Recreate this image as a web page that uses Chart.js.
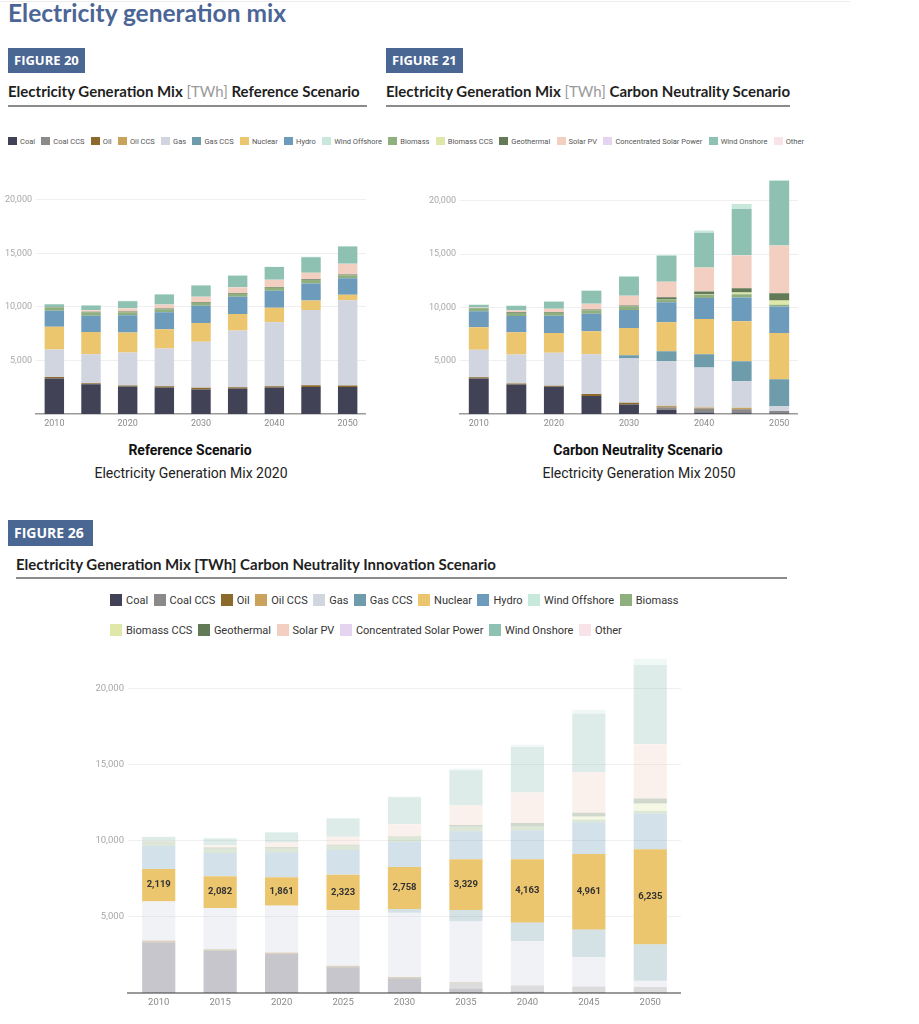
<!DOCTYPE html>
<html><head><meta charset="utf-8">
<script src="https://cdn.jsdelivr.net/npm/chart.js@4.4.1/dist/chart.umd.min.js"></script>
<style>
body{margin:0;background:#fff;width:919px;height:1024px;position:relative;overflow:hidden;font-family:Roboto,sans-serif;}
.abs{position:absolute;}
.topline{left:0;top:1px;width:850px;height:1px;background:#ececec}
.h1{left:8px;top:-1px;font:700 24.5px/28px Lato;color:#4b6696;white-space:nowrap}
.fig{height:25px;background:#4a6692;color:#fff;font:700 13px/25px "Open Sans";padding:0 6px;box-sizing:border-box;white-space:nowrap}
.sub{font:700 15px/18px Lato;color:#1f1f1f;white-space:nowrap}
.sub span{font-weight:400;color:#9a9a9a}
.rule{height:2px;background:#8a8a8a}
.cap1{font:700 14px/18px Roboto;color:#111;text-align:center;width:300px}
.cap2{font:400 14px/18px Roboto;color:#222;text-align:center;width:300px}
.leg{display:flex;align-items:center;white-space:nowrap}
.leg .it{display:flex;align-items:center}
.leg .sw{display:inline-block}
#legTop{left:8px;top:136px;height:10px;font:400 7.5px Roboto;color:#555;gap:6.3px}
#legTop .sw{width:9px;height:8px;margin-right:3px}
#leg3{left:110px;top:590px;width:600px;flex-wrap:wrap;gap:10px 5.5px;font:400 11px Roboto;color:#333}
#leg3 .it{height:20px}
#leg3 .sw{width:12px;height:12px;margin-right:4px}
.t26{font:700 15px/18px Lato;color:#1f1f1f;white-space:nowrap}
</style></head><body>
<div class="abs topline"></div>
<div class="abs h1">Electricity generation mix</div>

<div class="abs fig" style="left:8px;top:48px;width:77px">FIGURE 20</div>
<div class="abs fig" style="left:386px;top:48px;width:77px">FIGURE 21</div>
<div class="abs sub" style="left:8px;top:82px">Electricity Generation Mix <span>[TWh]</span> Reference Scenario</div>
<div class="abs sub" style="left:386px;top:82px">Electricity Generation Mix <span>[TWh]</span> Carbon Neutrality Scenario</div>
<div class="abs rule" style="left:8px;top:105px;width:359px"></div>
<div class="abs rule" style="left:386px;top:105px;width:404px"></div>

<div id="legTop" class="abs leg"></div>

<canvas id="c1" class="abs" style="left:0px;top:169px" width="366" height="265"></canvas>
<canvas id="c2" class="abs" style="left:420px;top:170px" width="378" height="264"></canvas>

<div class="abs cap1" style="left:40px;top:441px">Reference Scenario</div>
<div class="abs cap2" style="left:41px;top:464px">Electricity Generation Mix 2020</div>
<div class="abs cap1" style="left:488px;top:441px">Carbon Neutrality Scenario</div>
<div class="abs cap2" style="left:489px;top:464px">Electricity Generation Mix 2050</div>

<div class="abs fig" style="left:8px;top:520px;width:85px;height:26px;line-height:26px;font-size:14px">FIGURE 26</div>
<div class="abs t26" style="left:16px;top:555px">Electricity Generation Mix [TWh] Carbon Neutrality Innovation Scenario</div>
<div class="abs rule" style="left:16px;top:577px;width:771px"></div>

<div id="leg3" class="abs leg"></div>

<canvas id="c3" class="abs" style="left:88px;top:648px" width="593" height="365"></canvas>

<script>
// ---------- categories & ticks ----------
const years = ['2010','2015','2020','2025','2030','2035','2040','2045','2050'];
const yTickValues = [5000, 10000, 15000, 20000];

// ---------- series (stacking order, bottom to top) ----------
const seriesNames = ['Coal','Coal CCS','Oil','Oil CCS','Gas','Gas CCS','Nuclear','Hydro','Biomass','Biomass CCS','Geothermal','Solar PV','Concentrated Solar Power','Other','Wind Onshore','Wind Offshore'];
const seriesColors = ['#424257','#8a8a8a','#8c6a2b','#c9a35c','#d0d5e0','#6f9caa','#ecc56f','#6d9bbb','#8faf7e','#dfe8a8','#627a56','#f2cfc0','#e5d4f0','#f8e4e8','#8fc1b3','#c9e8dc'];
const legendOrder = ['Coal','Coal CCS','Oil','Oil CCS','Gas','Gas CCS','Nuclear','Hydro','Wind Offshore','Biomass','Biomass CCS','Geothermal','Solar PV','Concentrated Solar Power','Wind Onshore','Other'];

// ---------- Reference Scenario [TWh] ----------
const refCoal       = [3320,2770,2560,2470,2290,2380,2470,2530,2530];
const refCoalCCS    = [0,0,0,0,0,0,0,0,0];
const refOil        = [130,100,100,120,150,120,120,150,120];
const refOilCCS     = [0,0,0,0,0,0,0,0,0];
const refGas        = [2570,2710,3080,3530,4300,5290,5970,7030,7980];
const refGasCCS     = [0,0,0,0,0,0,0,0,0];
const refNuclear    = [2119,2082,1861,1790,1760,1550,1360,890,500];
const refHydro      = [1500,1520,1610,1580,1600,1600,1580,1580,1540];
const refBiomass    = [250,300,280,300,300,300,300,330,280];
const refBiomassCCS = [0,0,0,0,0,0,0,0,0];
const refGeothermal = [50,60,70,60,70,70,70,70,70];
const refSolar      = [30,150,300,350,450,500,650,600,980];
const refCSP        = [0,0,0,0,0,0,0,0,0];
const refOther      = [20,20,20,20,20,20,20,20,20];
const refWindOn     = [250,430,650,950,1060,1090,1180,1440,1620];
const refWindOff    = [10,20,40,30,40,40,40,40,40];

// ---------- Carbon Neutrality Scenario [TWh] ----------
const cnCoal       = [3320,2770,2560,1680,900,370,150,60,50];
const cnCoalCCS    = [0,0,0,0,0,250,350,380,230];
const cnOil        = [130,100,100,190,150,80,40,30,0];
const cnOilCCS     = [0,0,0,0,0,70,80,120,0];
const cnGas        = [2570,2710,3080,3730,4210,4210,3740,2490,470];
const cnGasCCS     = [0,0,0,0,250,910,1240,1870,2520];
const cnNuclear    = [2119,2082,1861,2160,2560,2710,3300,3740,4330];
const cnHydro      = [1500,1520,1610,1640,1680,1870,1970,2240,2490];
const cnBiomass    = [250,300,280,340,320,300,300,300,150];
const cnBiomassCCS = [0,0,0,0,0,0,40,160,400];
const cnGeothermal = [50,60,70,60,100,180,280,400,680];
const cnSolar      = [30,150,300,520,900,1430,2240,3080,4450];
const cnCSP        = [0,0,0,0,0,0,0,0,0];
const cnOther      = [20,20,20,20,20,20,20,20,20];
const cnWindOn     = [250,430,650,1210,1790,2440,3240,4330,6070];
const cnWindOff    = [10,20,40,40,50,80,220,470,80];

// ---------- Carbon Neutrality Innovation Scenario [TWh] ----------
const cniCoal       = [3320,2770,2560,1690,950,280,100,50,30];
const cniCoalCCS    = [0,0,0,0,0,370,400,380,360];
const cniOil        = [130,100,100,100,100,50,0,0,0];
const cniOilCCS     = [0,0,0,0,0,0,0,0,0];
const cniGas        = [2570,2710,3080,3650,4220,4000,2920,1930,410];
const cniGasCCS     = [0,0,0,0,240,740,1200,1800,2400];
const cniNuclear    = [2119,2082,1861,2323,2758,3329,4163,4961,6235];
const cniHydro      = [1500,1520,1610,1620,1650,1850,1900,2060,2320];
const cniBiomass    = [250,300,280,300,300,300,270,200,200];
const cniBiomassCCS = [0,0,0,0,0,0,0,200,480];
const cniGeothermal = [50,60,70,50,50,100,200,240,330];
const cniSolar      = [30,150,300,500,800,1280,2000,2640,3550];
const cniCSP        = [0,0,0,0,0,0,0,0,0];
const cniOther      = [20,20,20,20,20,20,20,20,20];
const cniWindOn     = [250,430,650,1200,1750,2300,2970,3840,5180];
const cniWindOff    = [10,20,40,30,50,100,150,260,410];

const refSeries = [refCoal,refCoalCCS,refOil,refOilCCS,refGas,refGasCCS,refNuclear,refHydro,refBiomass,refBiomassCCS,refGeothermal,refSolar,refCSP,refOther,refWindOn,refWindOff];
const cnSeries  = [cnCoal,cnCoalCCS,cnOil,cnOilCCS,cnGas,cnGasCCS,cnNuclear,cnHydro,cnBiomass,cnBiomassCCS,cnGeothermal,cnSolar,cnCSP,cnOther,cnWindOn,cnWindOff];
const cniSeries = [cniCoal,cniCoalCCS,cniOil,cniOilCCS,cniGas,cniGasCCS,cniNuclear,cniHydro,cniBiomass,cniBiomassCCS,cniGeothermal,cniSolar,cniCSP,cniOther,cniWindOn,cniWindOff];

// ---------- legends ----------
function buildLegend(id) {
  const box = document.getElementById(id);
  legendOrder.forEach(name => {
    const it = document.createElement('div'); it.className = 'it';
    const sw = document.createElement('span'); sw.className = 'sw';
    sw.style.background = seriesColors[seriesNames.indexOf(name)];
    const tx = document.createElement('span'); tx.textContent = name;
    it.appendChild(sw); it.appendChild(tx); box.appendChild(it);
  });
}
buildLegend('legTop');
buildLegend('leg3');

function fade(hex, a) {
  const n = parseInt(hex.slice(1), 16);
  return `rgba(${(n>>16)&255},${(n>>8)&255},${n&255},${a})`;
}

const nuclearLabels = {
  id: 'nuclearLabels',
  afterDatasetsDraw(chart) {
    const idx = chart.data.datasets.findIndex(d => d.label === 'Nuclear');
    const meta = chart.getDatasetMeta(idx);
    const ctx = chart.ctx;
    ctx.save();
    ctx.font = '700 9.5px Roboto';
    ctx.fillStyle = '#333';
    ctx.textAlign = 'center';
    ctx.textBaseline = 'middle';
    meta.data.forEach((el, i) => {
      const p = el.getCenterPoint();
      ctx.fillText(chart.data.datasets[idx].data[i].toLocaleString('en-US'), p.x, p.y);
    });
    ctx.restore();
  }
};

function makeChart(id, series, cfg) {
  const datasets = seriesNames.map((name, i) => ({
    label: name,
    data: series[i],
    backgroundColor: cfg.faded && name !== 'Nuclear' ? fade(seriesColors[i], 0.3) : seriesColors[i],
    borderWidth: 0,
    categoryPercentage: 1,
    barPercentage: cfg.barPct
  }));
  return new Chart(document.getElementById(id), {
    type: 'bar',
    data: { labels: years, datasets },
    plugins: cfg.faded ? [nuclearLabels] : [],
    options: {
      responsive: false,
      animation: false,
      events: [],
      layout: { padding: { top: cfg.padTop, left: 0, right: 0, bottom: 0 } },
      plugins: { legend: { display: false }, tooltip: { enabled: false } },
      scales: {
        x: {
          stacked: true,
          grid: { display: false, drawTicks: false },
          border: { color: '#9a9a9a', width: cfg.axisW },
          afterFit: s => { s.height = 20; },
          ticks: {
            autoSkip: false, maxRotation: 0, padding: 4,
            color: '#8a8a8a', font: { family: 'Roboto', size: cfg.font },
            callback: function (v, i) { return (cfg.every2 && i % 2 === 1) ? '' : this.getLabelForValue(v); }
          }
        },
        y: {
          stacked: true,
          min: 0, max: 22000,
          afterBuildTicks: ax => { ax.ticks = yTickValues.map(v => ({ value: v })); },
          afterFit: s => { s.width = cfg.yW; },
          grid: { color: '#efefef', drawTicks: false, lineWidth: 1 },
          border: { display: false },
          ticks: {
            padding: 4, color: '#a8a8a8', font: { family: 'Roboto', size: cfg.font },
            callback: v => v.toLocaleString('en-US')
          }
        }
      }
    }
  });
}

makeChart('c1', refSeries, { barPct: 0.53, padTop: 7, yW: 36, font: 9, every2: true, axisW: 1.5 });
makeChart('c2', cnSeries,  { barPct: 0.53, padTop: 7, yW: 40, font: 9, every2: true, axisW: 1.5 });
makeChart('c3', cniSeries, { barPct: 0.54, padTop: 4, yW: 40, font: 9.5, every2: false, axisW: 2, faded: true });
</script>
</body></html>
